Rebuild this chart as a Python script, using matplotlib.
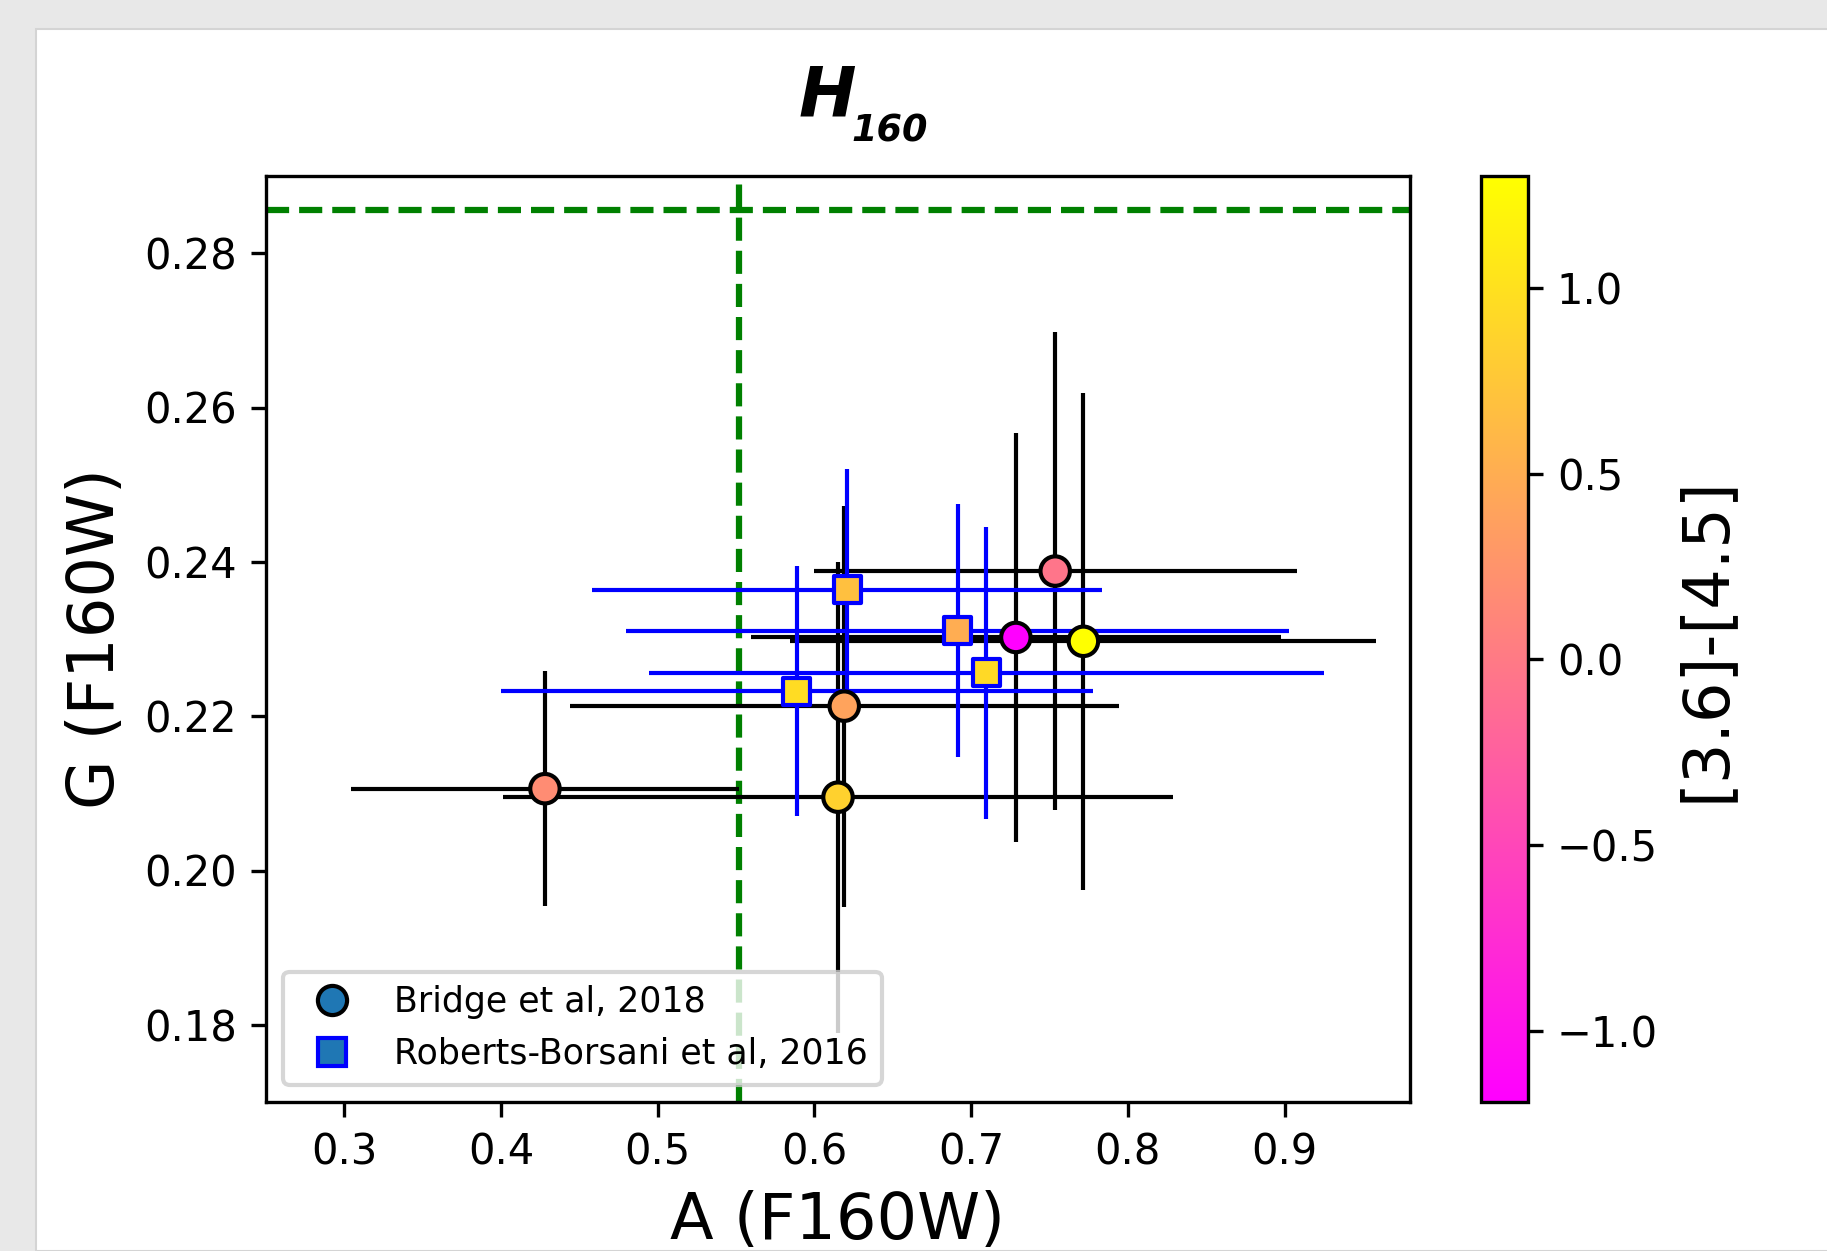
import numpy as np
import matplotlib
matplotlib.use("Agg")
import matplotlib.pyplot as plt
from matplotlib.lines import Line2D
from matplotlib.patches import Rectangle

# ----------------------------
# Data
# ----------------------------

# Bridge et al, 2018
bridge_A = [0.428, 0.615, 0.619, 0.7285, 0.7536, 0.7716]
bridge_G = [0.2106, 0.2095, 0.2213, 0.2302, 0.2388, 0.2297]
bridge_Aerr = [0.124, 0.2135, 0.175, 0.169, 0.154, 0.187]
bridge_Gerr = [0.0152, 0.0305, 0.026, 0.0265, 0.031, 0.0322]
bridge_col = [0.18, 0.85, 0.40, -1.19, -0.05, 1.30]

# Roberts-Borsani et al, 2016
rb_A = [0.5888, 0.6208, 0.6914, 0.7097]
rb_G = [0.2232, 0.2364, 0.2311, 0.2256]
rb_Aerr = [0.189, 0.1627, 0.2114, 0.2154]
rb_Gerr = [0.0162, 0.0156, 0.0164, 0.0189]
rb_col = [0.95, 0.68, 0.50, 0.93]

A_cut = 0.552
G_cut = 0.2856
vmin, vmax = -1.19, 1.30

# ----------------------------
# Figure
# ----------------------------

fig = plt.figure(figsize=(6.09, 4.17), dpi=300, facecolor="#e8e8e8")
page = Rectangle((36 / 1827, 0), 1, 1 - 29 / 1251, transform=fig.transFigure,
                 facecolor="white", edgecolor="#d4d4d4", linewidth=0.5, zorder=-10)
fig.patches.append(page)

ax = fig.add_axes([266 / 1827, 1 - 1102 / 1251, (1410 - 266) / 1827, (1102 - 176) / 1251])
cax = fig.add_axes([1481 / 1827, 1 - 1102 / 1251, 46.6 / 1827, (1102 - 176) / 1251])

ax.errorbar(bridge_A, bridge_G, xerr=bridge_Aerr, yerr=bridge_Gerr, fmt="none",
            ecolor="black", elinewidth=1.0, zorder=2)
ax.errorbar(rb_A, rb_G, xerr=rb_Aerr, yerr=rb_Gerr, fmt="none",
            ecolor="blue", elinewidth=1.0, zorder=3)

sc = ax.scatter(bridge_A, bridge_G, c=bridge_col, cmap="spring", vmin=vmin, vmax=vmax,
                s=50, marker="o", edgecolors="black", linewidths=1.0, zorder=5)
ax.scatter(rb_A, rb_G, c=rb_col, cmap="spring", vmin=vmin, vmax=vmax,
           s=42, marker="s", edgecolors="blue", linewidths=1.0, zorder=5)

ax.axvline(A_cut, color="green", linestyle="--", linewidth=1.5, zorder=1)
ax.axhline(G_cut, color="green", linestyle="--", linewidth=1.5, zorder=1)

ax.set_xlim(0.25, 0.98)
ax.set_ylim(0.17, 0.29)
ax.set_xticks([0.3, 0.4, 0.5, 0.6, 0.7, 0.8, 0.9])
ax.set_yticks([0.18, 0.20, 0.22, 0.24, 0.26, 0.28])
ax.tick_params(labelsize=10)
ax.set_xlabel("A (F160W)", fontsize=15.3)
ax.set_ylabel("G (F160W)", fontsize=15.3)

handles = [
    Line2D([], [], marker="o", linestyle="none", markerfacecolor="C0",
           markeredgecolor="black", markeredgewidth=1.0, markersize=7),
    Line2D([], [], marker="s", linestyle="none", markerfacecolor="C0",
           markeredgecolor="blue", markeredgewidth=1.0, markersize=6.5),
]
ax.legend(handles, ["Bridge et al, 2018", "Roberts-Borsani et al, 2016"],
          loc="lower left", fontsize="small")

cb = fig.colorbar(sc, cax=cax)
cb.set_ticks([-1.0, -0.5, 0.0, 0.5, 1.0])
cb.ax.tick_params(labelsize=10)
cb.set_label("[3.6]-[4.5]", fontsize=15.3)

# title: H with a low-set subscript 160
fig.text(799 / 1827, 1 - 116 / 1251, "H", fontsize=16.5, fontweight="bold",
         fontstyle="italic", ha="left", va="baseline")
fig.text(851 / 1827, 1 - 141 / 1251, "160", fontsize=8.8, fontweight="bold",
         fontstyle="italic", ha="left", va="baseline")

fig.savefig("out.png", dpi=300, facecolor=fig.get_facecolor())
